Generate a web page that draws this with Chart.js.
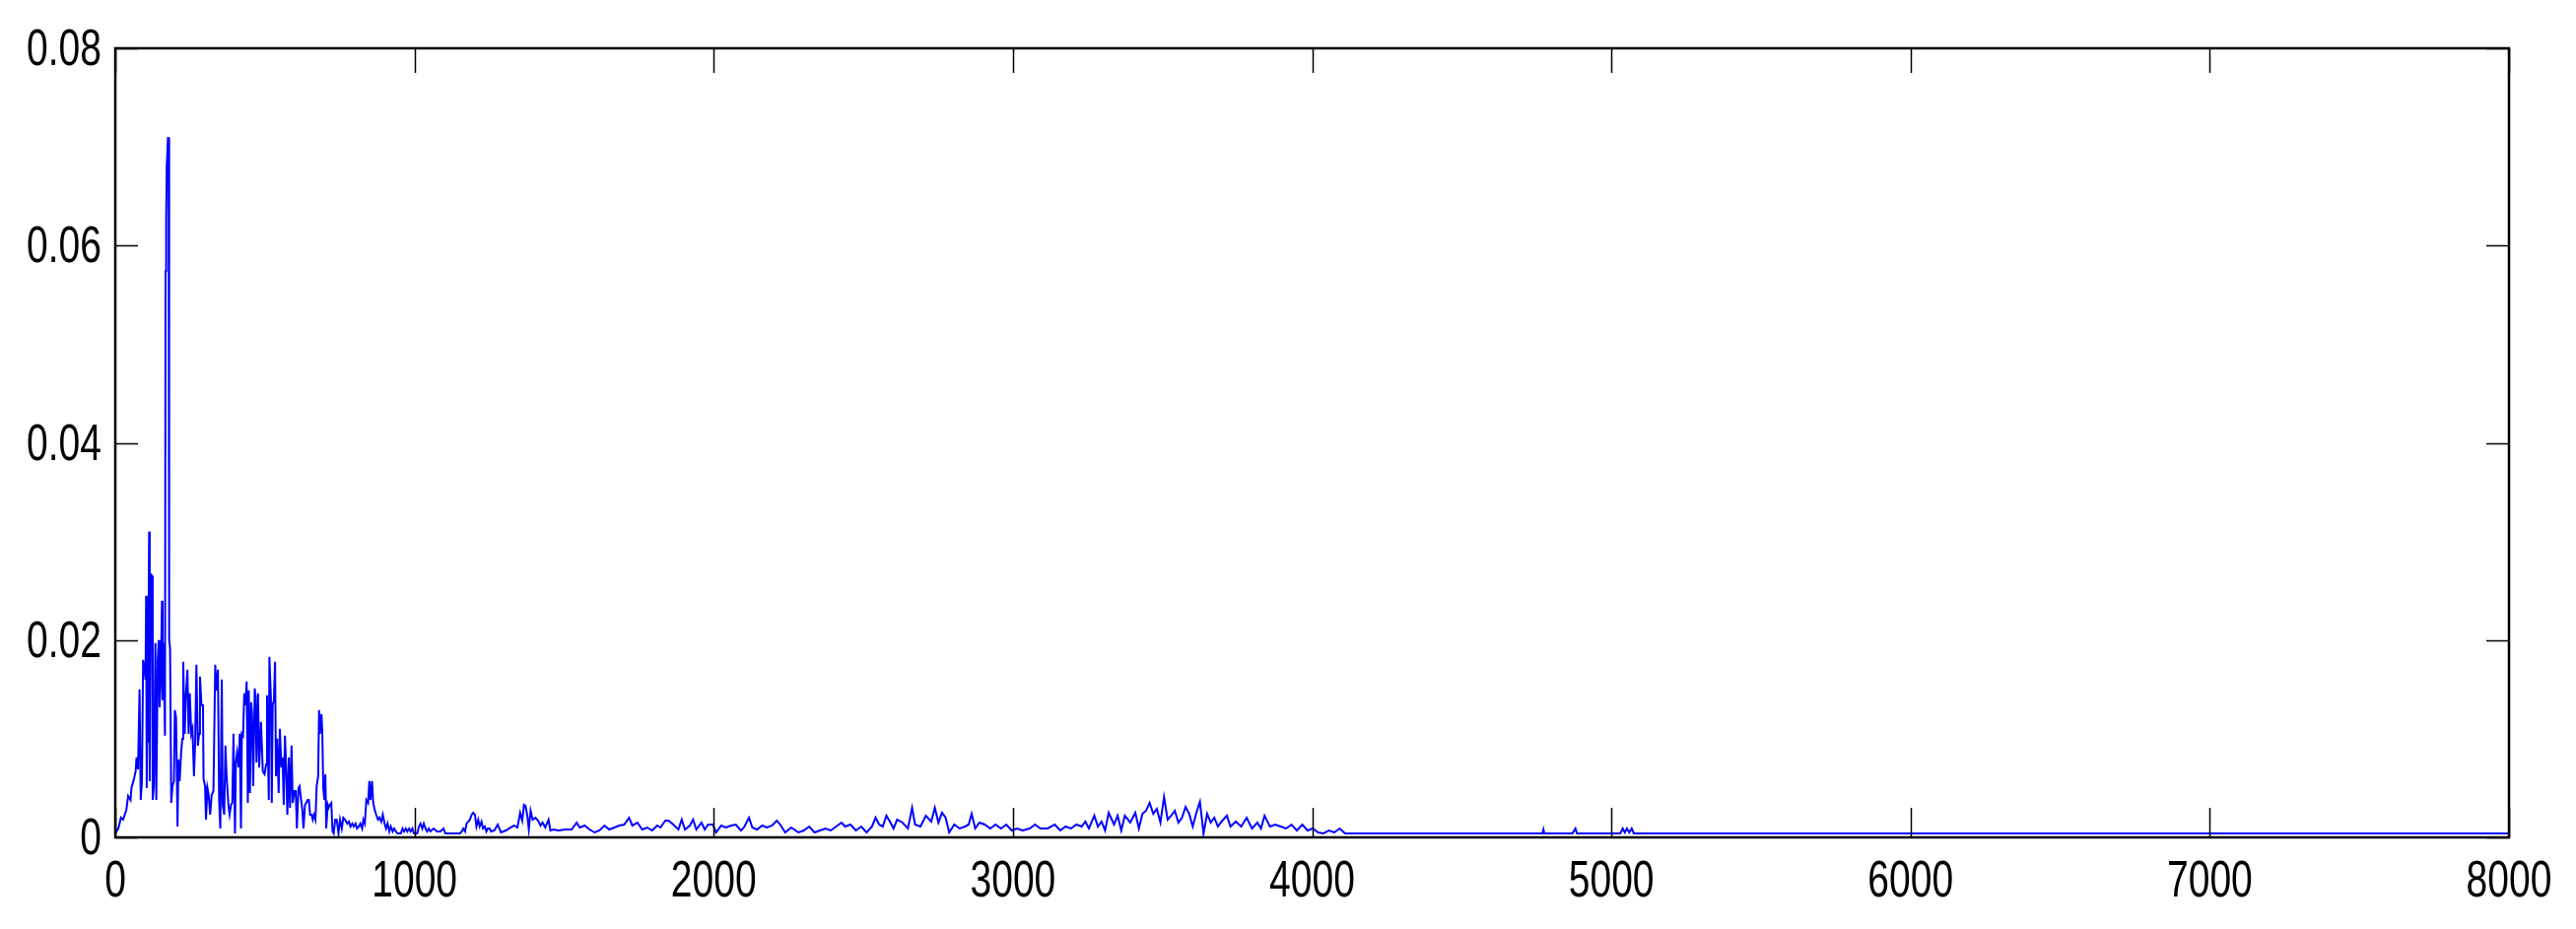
<!DOCTYPE html>
<html>
<head>
<meta charset="utf-8">
<script src="https://cdn.jsdelivr.net/npm/chart.js@4/dist/chart.umd.min.js"></script>
<style>
  html, body { margin: 0; padding: 0; background: #fff; }
  #wrap { width: 2614px; height: 943px; }
</style>
</head>
<body>
<div id="wrap"><canvas id="spectrum"></canvas></div>
<script>
// frequency (Hz) and magnitude
const freqs = [
  0, 10, 19, 26, 37, 43, 51, 54, 63, 68, 71, 76, 81, 85, 89, 93, 98, 101, 103, 105,
  107, 109, 113, 115, 118, 123, 125, 129, 134, 137, 142, 145, 148, 152, 156, 158, 161, 166, 168, 170,
  172, 176, 178, 180, 183, 187, 191, 196, 199, 203, 208, 211, 215, 220, 224, 227, 232, 236, 241, 245,
  249, 254, 258, 263, 267, 271, 276, 280, 283, 288, 293, 295, 300, 303, 308, 312, 317, 322, 328, 334,
  338, 343, 347, 351, 356, 359, 364, 368, 372, 378, 382, 387, 391, 395, 400, 403, 407, 412, 416, 420,
  423, 427, 431, 435, 439, 443, 446, 450, 454, 457, 461, 466, 469, 472, 477, 481, 487, 493, 499, 504,
  507, 513, 515, 520, 523, 526, 530, 534, 537, 541, 546, 550, 555, 559, 563, 567, 571, 575, 580, 584,
  589, 593, 599, 603, 607, 612, 616, 621, 625, 629, 634, 638, 643, 647, 651, 656, 660, 664, 669, 673,
  678, 681, 684, 689, 692, 695, 699, 702, 705, 710, 713, 717, 722, 726, 730, 735, 740, 746, 751, 757,
  762, 768, 775, 781, 786, 792, 797, 803, 808, 814, 819, 825, 829, 834, 839, 845, 849, 853, 858, 862,
  867, 872, 878, 883, 889, 894, 900, 905, 910, 916, 921, 927, 932, 938, 943, 954, 960, 965, 971, 976,
  982, 987, 993, 998, 1009, 1015, 1020, 1026, 1031, 1037, 1042, 1048, 1053, 1064, 1075, 1086, 1097, 1103, 1152, 1158,
  1163, 1169, 1174, 1180, 1185, 1191, 1196, 1202, 1207, 1213, 1218, 1224, 1229, 1235, 1240, 1245, 1251, 1256,
  1267, 1278, 1289, 1305, 1322, 1333, 1344, 1353, 1360, 1366, 1371, 1377, 1382, 1388, 1395, 1404, 1413, 1421, 1428, 1437,
  1448, 1454, 1465, 1481, 1503, 1525, 1542, 1552, 1569, 1585, 1602, 1618, 1635, 1651, 1668, 1684, 1701, 1717, 1728, 1745,
  1761, 1778, 1794, 1811, 1822, 1838, 1849, 1865, 1882, 1893, 1904, 1920, 1931, 1942, 1959, 1970, 1981, 1997, 2008, 2025,
  2041, 2058, 2074, 2091, 2101, 2118, 2129, 2145, 2162, 2178, 2195, 2211, 2222, 2239,
  2259, 2283, 2301, 2319, 2337, 2355, 2373, 2391, 2409, 2427, 2439, 2457, 2475, 2493, 2511, 2529, 2541, 2553, 2565, 2577,
  2589, 2601, 2613, 2631, 2649, 2663, 2673, 2691, 2709, 2727, 2739, 2751, 2763, 2775, 2787, 2804, 2822, 2840, 2852, 2862,
  2874, 2888, 2906, 2924, 2942, 2960, 2978, 2996, 3014, 3032, 3056, 3074, 3092, 3116, 3140, 3158, 3176, 3194, 3212, 3230,
  3242, 3254, 3272, 3284, 3296, 3308, 3320, 3338, 3350, 3362, 3374, 3392, 3409, 3421, 3433, 3445, 3457, 3469, 3481, 3493,
  3505, 3517, 3529, 3541, 3553, 3565, 3577, 3589, 3601, 3613, 3625, 3637, 3649, 3661, 3673, 3685, 3697, 3715, 3727, 3745,
  3763, 3781, 3799, 3817, 3829, 3841, 3859, 3877, 3895, 3913, 3931, 3949, 3967, 3985, 4002, 4020, 4038, 4056, 4074, 4092,
  4110, 4770, 4773, 4776, 4870, 4880, 4885, 5030, 5038, 5045, 5052, 5060, 5068, 5075, 8000
];

const magnitudes = [
  0.0004, 0.0009, 0.002, 0.0018, 0.0028, 0.0042, 0.0038, 0.005, 0.006, 0.0067, 0.0081, 0.0069, 0.015, 0.0038, 0.0057, 0.018, 0.017, 0.016, 0.0245, 0.005,
  0.013, 0.0096, 0.031, 0.0057, 0.0267, 0.0265, 0.0038, 0.0052, 0.0197, 0.0038, 0.018, 0.020, 0.0132, 0.016, 0.024, 0.0139, 0.0197, 0.0103, 0.0574, 0.0627,
  0.068, 0.0709, 0.0709, 0.020, 0.0192, 0.0035, 0.0052, 0.0057, 0.0129, 0.0122, 0.0011, 0.0079, 0.0057, 0.0086, 0.01, 0.0178, 0.0105, 0.0144, 0.017, 0.0105,
  0.0146, 0.0105, 0.011, 0.0062, 0.0098, 0.0175, 0.0093, 0.0105, 0.0163, 0.0134, 0.0134, 0.0059, 0.0052, 0.0018, 0.005, 0.0043, 0.0023, 0.0043, 0.0047, 0.0175,
  0.0149, 0.017, 0.0038, 0.0009, 0.016, 0.0033, 0.0023, 0.0093, 0.0062, 0.0033, 0.0023, 0.0033, 0.0035, 0.0105, 0.0004, 0.0076, 0.0086, 0.0071, 0.0105, 0.0009,
  0.0105, 0.0103, 0.0146, 0.0134, 0.0158, 0.0035, 0.0149, 0.0045, 0.0137, 0.0125, 0.0052, 0.0151, 0.0142, 0.0076, 0.0146, 0.0071, 0.0117, 0.0067, 0.0064, 0.0074,
  0.0144, 0.0038, 0.0183, 0.0142, 0.0035, 0.0134, 0.0139, 0.0178, 0.0062, 0.01, 0.0045, 0.011, 0.0071, 0.0081, 0.0033, 0.0103, 0.0071, 0.0023, 0.0081, 0.003,
  0.0093, 0.0035, 0.0047, 0.0047, 0.0009, 0.005, 0.0052, 0.0038, 0.0028, 0.0009, 0.0033, 0.0035, 0.0038, 0.0038, 0.0023, 0.0023, 0.0018, 0.0023, 0.0018, 0.0052,
  0.0062, 0.0129, 0.0105, 0.0125, 0.0105, 0.005, 0.0038, 0.0064, 0.0009, 0.0033, 0.003, 0.0033, 0.0035, 0.0006, 0.0004, 0.0018, 0.0018, 0.0004, 0.0018, 0.0009,
  0.002, 0.0018, 0.0014, 0.0016, 0.0011, 0.0014, 0.0011, 0.0014, 0.0009, 0.0011, 0.0014, 0.0009, 0.0018, 0.0014, 0.0038, 0.0035, 0.0057, 0.0038, 0.0057, 0.0035,
  0.0028, 0.0023, 0.0018, 0.002, 0.0016, 0.0023, 0.0014, 0.0009, 0.0014, 0.0006, 0.0011, 0.0006, 0.0009, 0.0006, 0.0004, 0.0004, 0.0009, 0.0006, 0.0009, 0.0006,
  0.0009, 0.0006, 0.0009, 0.0004, 0.0004, 0.0011, 0.0014, 0.0009, 0.0014, 0.0009, 0.0006, 0.0009, 0.0006, 0.0009, 0.0006, 0.0006, 0.0009, 0.0004, 0.0004, 0.0006,
  0.0009, 0.0006, 0.0014, 0.0016, 0.0018, 0.0023, 0.0025, 0.0023, 0.0011, 0.0018, 0.0011, 0.0016, 0.0009, 0.0011, 0.0006, 0.0009, 0.0009, 0.0006,
  0.0007, 0.0013, 0.0005, 0.0007, 0.001, 0.0012, 0.001, 0.0025, 0.0017, 0.0033, 0.0032, 0.0022, 0.0008, 0.0027, 0.0018, 0.002, 0.0017, 0.0012, 0.0015, 0.001,
  0.0018, 0.0007, 0.0008, 0.0007, 0.0008, 0.0008, 0.0015, 0.001, 0.0012, 0.0008, 0.0005, 0.0007, 0.0012, 0.0008, 0.001, 0.0012, 0.0013, 0.002, 0.0012, 0.0015,
  0.0008, 0.001, 0.0007, 0.0012, 0.001, 0.0017, 0.0017, 0.0013, 0.0008, 0.0018, 0.0008, 0.0012, 0.0018, 0.0008, 0.0015, 0.0008, 0.0013, 0.0013, 0.0005, 0.0012,
  0.001, 0.0012, 0.0013, 0.0007, 0.001, 0.002, 0.001, 0.0008, 0.0012, 0.001, 0.0012, 0.0017, 0.0013, 0.0005,
  0.001, 0.0005, 0.0007, 0.0011, 0.0005, 0.0007, 0.0009, 0.0007, 0.0011, 0.0015, 0.0011, 0.0013, 0.0007, 0.0011, 0.0005, 0.0011, 0.002, 0.0013, 0.0011, 0.0022,
  0.0016, 0.0009, 0.0018, 0.0015, 0.0009, 0.003, 0.0013, 0.0011, 0.0022, 0.0016, 0.003, 0.0015, 0.0025, 0.002, 0.0005, 0.0013, 0.0009, 0.0011, 0.0013, 0.0024,
  0.0009, 0.0015, 0.0013, 0.0009, 0.0013, 0.0009, 0.0013, 0.0007, 0.0009, 0.0007, 0.0009, 0.0013, 0.0009, 0.0009, 0.0013, 0.0007, 0.0011, 0.0009, 0.0013, 0.0011,
  0.0016, 0.0009, 0.0022, 0.0011, 0.0016, 0.0007, 0.0025, 0.0013, 0.0022, 0.0007, 0.0022, 0.0015, 0.0025, 0.0009, 0.0024, 0.0027, 0.0035, 0.0024, 0.0029, 0.0015,
  0.0041, 0.0018, 0.0022, 0.0027, 0.0015, 0.002, 0.0031, 0.0024, 0.0011, 0.0025, 0.0036, 0.0004, 0.0024, 0.0015, 0.002, 0.0011, 0.0016, 0.0022, 0.0011, 0.0016,
  0.0011, 0.002, 0.0009, 0.0015, 0.0009, 0.0022, 0.0011, 0.0013, 0.0011, 0.0009, 0.0013, 0.0007, 0.0013, 0.0007, 0.0009, 0.0005, 0.0004, 0.0007, 0.0005, 0.0009,
  0.0004, 0.0004, 0.0008, 0.0004, 0.0004, 0.0009, 0.0004, 0.0004, 0.0009, 0.0005, 0.0009, 0.0005, 0.0009, 0.0004, 0.0004
];

const xTicks = [0, 1000, 2000, 3000, 4000, 5000, 6000, 7000, 8000];
const yTicks = [0, 0.02, 0.04, 0.06, 0.08];
const xLabels = ['0', '1000', '2000', '3000', '4000', '5000', '6000', '7000', '8000'];
const yLabels = ['0', '0.02', '0.04', '0.06', '0.08'];

// the reference uses a narrow Helvetica; squeeze Liberation Sans to match
const LABEL_FONT = '52px "Liberation Sans", Arial, sans-serif';
const SQUEEZE = 0.75;

// MATLAB style: box round the axes, ticks pointing inward on all four sides
const matlabBox = {
    id: 'matlabBox',
    afterDraw(chart) {
        const { ctx, chartArea: a, scales: { x, y } } = chart;
        const seg = (x1, y1, x2, y2) => {
            ctx.beginPath();
            ctx.moveTo(x1, y1);
            ctx.lineTo(x2, y2);
            ctx.stroke();
        };
        const label = (text, px, py, align) => {
            ctx.save();
            ctx.translate(px, py);
            ctx.scale(SQUEEZE, 1);
            ctx.textAlign = align;
            ctx.fillText(text, 0, 0);
            ctx.restore();
        };

        ctx.save();
        ctx.strokeStyle = '#000';
        ctx.fillStyle = '#000';
        ctx.lineWidth = 1.5;
        xTicks.forEach(v => {
            const px = Math.round(x.getPixelForValue(v)) + 0.5;
            seg(px, a.bottom, px, a.bottom - 30);
            seg(px, a.top, px, a.top + 25);
        });
        yTicks.forEach(v => {
            const py = Math.round(y.getPixelForValue(v)) + 0.5;
            seg(a.left, py, a.left + 23, py);
            seg(a.right, py, a.right - 23, py);
        });
        ctx.lineWidth = 2.5;
        ctx.strokeRect(a.left, a.top, a.right - a.left, a.bottom - a.top);

        ctx.font = LABEL_FONT;
        ctx.textBaseline = 'alphabetic';
        xTicks.forEach((v, i) => {
            label(xLabels[i], x.getPixelForValue(v), a.bottom + 60, 'center');
        });
        yTicks.forEach((v, i) => {
            label(yLabels[i], a.left - 14, y.getPixelForValue(v) + 17, 'right');
        });
        ctx.restore();
    }
};

document.addEventListener('DOMContentLoaded', () => {
    const points = freqs.map((f, i) => ({ x: f, y: magnitudes[i] }));

    new Chart(document.getElementById('spectrum').getContext('2d'), {
        type: 'line',
        data: {
            datasets: [{
                data: points,
                borderColor: '#0000ff',
                borderWidth: 2,
                pointRadius: 0,
                tension: 0,
                fill: false
            }]
        },
        options: {
            responsive: true,
            maintainAspectRatio: false,
            animation: false,
            events: [],
            layout: { padding: { top: 49, right: 68, left: 0, bottom: 0 } },
            plugins: {
                legend: { display: false },
                tooltip: { enabled: false }
            },
            scales: {
                x: {
                    type: 'linear',
                    min: 0,
                    max: 8000,
                    afterFit: s => { s.height = 93; },
                    grid: { display: false, drawTicks: false },
                    border: { display: false },
                    ticks: { display: false, stepSize: 1000 }
                },
                y: {
                    type: 'linear',
                    min: 0,
                    max: 0.08,
                    afterFit: s => { s.width = 117; },
                    grid: { display: false, drawTicks: false },
                    border: { display: false },
                    ticks: { display: false, stepSize: 0.02 }
                }
            }
        },
        plugins: [matlabBox]
    });
});
</script>
</body>
</html>
